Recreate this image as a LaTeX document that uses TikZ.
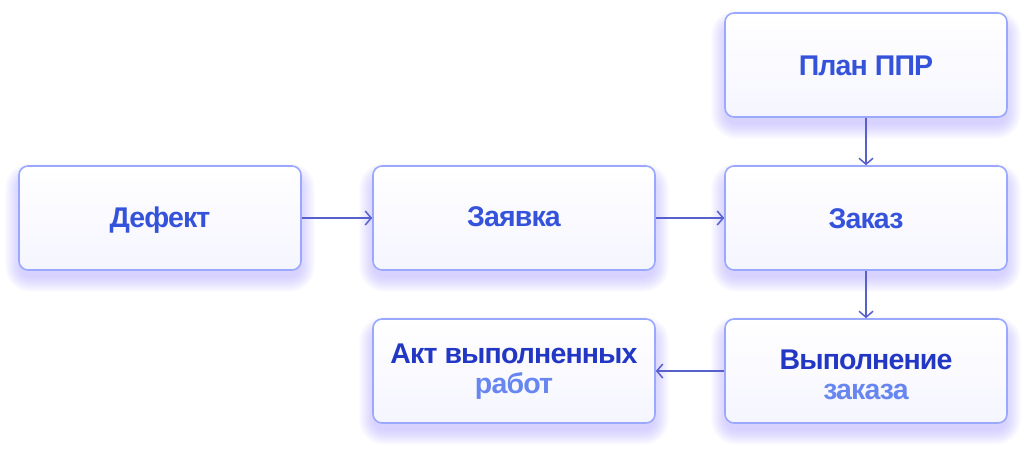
\documentclass[tikz,border=0pt]{standalone}
\usepackage{fontspec}
\setmainfont{Liberation Sans}[LetterSpace=-3]
\usetikzlibrary{arrows.meta,calc,backgrounds}
\definecolor{bordc}{HTML}{9AA8FF}
\definecolor{shadc}{HTML}{B0A4FF}
\definecolor{txtc}{HTML}{3553DA}
\definecolor{txtd}{HTML}{2238C4}
\definecolor{txtl}{HTML}{6786F0}
\definecolor{arrc}{HTML}{5860CC}
\definecolor{boxbot}{HTML}{F5F5FF}
\tikzset{
  card/.style={draw=bordc, line width=1.6pt, rounded corners=9pt,
    top color=white, bottom color=boxbot,
    minimum width=282pt, minimum height=104pt, inner sep=0pt},
  lbl/.style={align=center, font=\fontsize{28.5}{30}\selectfont\bfseries, text=txtc, inner sep=0pt},
  link/.style={draw=arrc, line width=1.5pt, -{Straight Barb[length=6pt,width=14pt,line width=1.5pt]}},
}
\begin{document}
\begin{tikzpicture}[x=1pt,y=-1pt]
\useasboundingbox (0,0) rectangle (1024,450);
\node[card] (def) at (160,218) {};
\node[card] (zay) at (514,218) {};
\node[card] (zak) at (866,218) {};
\node[card] (plan) at (866,65) {};
\node[card] (vyp) at (866,371) {};
\node[card] (akt) at (514,371) {};
\node[lbl] (deft) at ($(def)+(0,2)$) {Дефект};
\node[lbl] (zayt) at ($(zay)+(0,-1)$) {Заявка};
\node[lbl] (zakt) at ($(zak)+(0,1)$) {Заказ};
\node[lbl] (plant) at ($(plan)+(0,1)$) {План ППР};
\node[lbl] (vypt) at ($(vyp)+(0,4)$) {\textcolor{txtd}{Выполнение}\\\textcolor{txtl}{заказа}};
\node[lbl] (aktt) at ($(akt)+(0,1)$) {\textcolor{txtd}{Акт выполненных}\\\textcolor{txtl}{работ}};
\begin{scope}[on background layer]
\fill[white] (0,0) rectangle (1024,450);
\foreach \n in {def,zay,zak,plan,vyp,akt}{
  \foreach \i in {1,...,16}{
    \fill[shadc, opacity=0.035, rounded corners=9pt+\i pt]
      ($(\n.south west)+(-\i+3,\i+5)$) rectangle ($(\n.north east)+(\i-3,-\i+14)$);
  }
}
\end{scope}
\draw[link] (def.east) -- (zay.west);
\draw[link] (zay.east) -- (zak.west);
\draw[link] (plan.south) -- (zak.north);
\draw[link] (zak.south) -- (vyp.north);
\draw[link] (vyp.west) -- (akt.east);
\end{tikzpicture}
\end{document}
